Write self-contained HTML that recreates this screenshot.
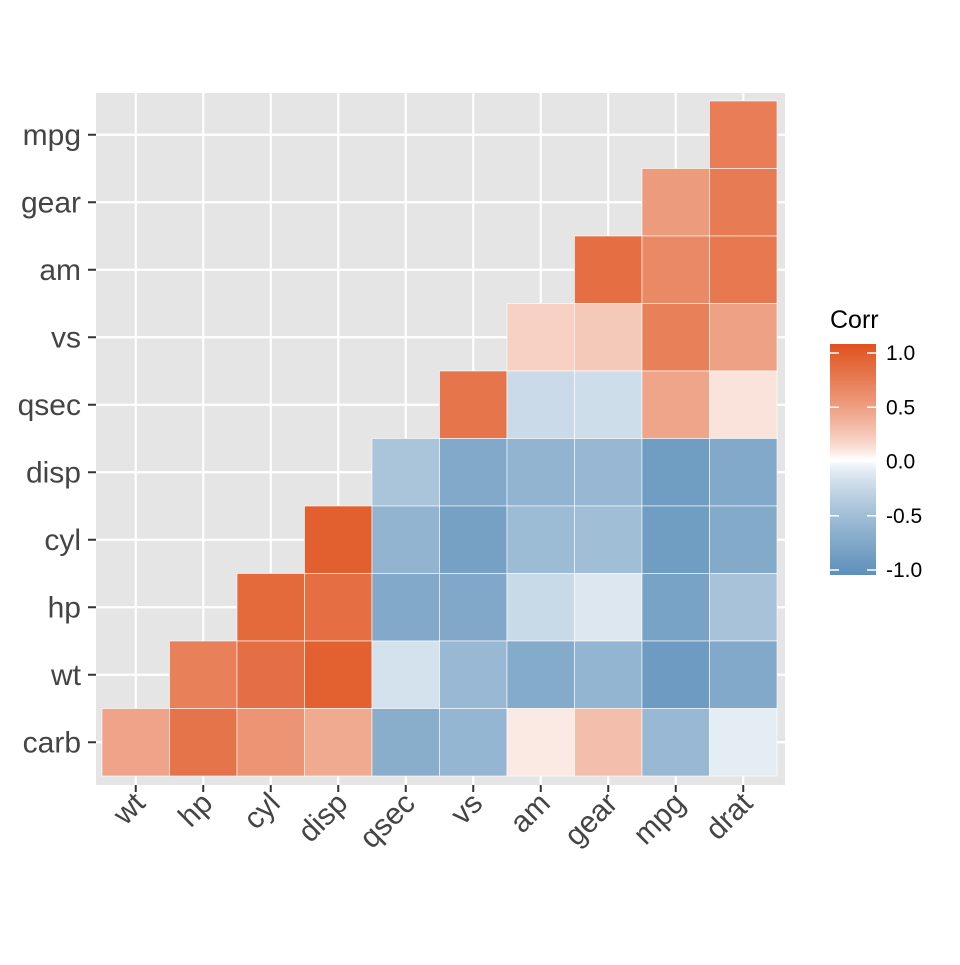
<!DOCTYPE html>
<html><head><meta charset="utf-8"><style>body{margin:0;background:#fff}</style></head>
<body>
<svg id="s" width="960" height="960" xmlns="http://www.w3.org/2000/svg" font-family="Liberation Sans, Arial, sans-serif">
<defs><linearGradient id="g" x1="0" y1="0" x2="0" y2="1">
</linearGradient></defs>
<rect x="96" y="93" width="689" height="692" fill="#e5e5e5"/>
<g id="grid"></g><g id="tiles"></g><g id="lab"></g>
<text x="830" y="328" font-size="25" fill="#000">Corr</text>
<rect x="830" y="344" width="46" height="231" fill="url(#g)"/>
<g id="leg"></g>
</svg>
<script>
const ns="http://www.w3.org/2000/svg";
function el(p,t,a,txt){const e=document.createElementNS(ns,t);for(const k in a)e.setAttribute(k,a[k]);if(txt!==undefined)e.textContent=txt;(typeof p==="string"?document.getElementById(p):p).appendChild(e);return e;}
const cols=["wt","hp","cyl","disp","qsec","vs","am","gear","mpg","drat"];
const rows=["mpg","gear","am","vs","qsec","disp","cyl","hp","wt","carb"];
const R={mpg:[.68],gear:[.48,.70],am:[.79,.60,.71],vs:[.17,.21,.66,.44],qsec:[.74,-.23,-.21,.42,.09],
disp:[-.43,-.71,-.59,-.56,-.85,-.71],cyl:[.90,-.59,-.81,-.52,-.49,-.85,-.70],
hp:[.83,.79,-.71,-.72,-.24,-.13,-.78,-.45],wt:[.66,.78,.89,-.17,-.55,-.69,-.58,-.87,-.71],
carb:[.43,.75,.53,.39,-.66,-.57,.06,.27,-.55,-.09]};
const x0=102,y0=101,w=67.5;
function col(v){const hi=[224,82,30],lo=[94,144,186];const c=v>=0?hi:lo,t=Math.pow(Math.abs(v),0.75);
return "rgb("+c.map(q=>Math.round(255+(q-255)*t)).join(",")+")";}
const g=document.getElementById("g");
for(let k=0;k<=20;k++){const v=1-k/10;el(g,"stop",{offset:k/20,"stop-color":col(v)});}
for(let i=0;i<10;i++){const cx=x0+w*i+w/2,cy=y0+w*i+w/2;
el("grid","line",{x1:cx,x2:cx,y1:93,y2:785,stroke:"#fff","stroke-width":2.2});
el("grid","line",{x1:96,x2:785,y1:cy,y2:cy,stroke:"#fff","stroke-width":2.2});
el("grid","line",{x1:cx,x2:cx,y1:785,y2:792,stroke:"#333","stroke-width":2});
el("grid","line",{x1:88,x2:96,y1:cy,y2:cy,stroke:"#333","stroke-width":2});
el("lab","text",{x:81,y:cy+10,"font-size":30,fill:"#444","text-anchor":"end"},rows[i]);
el("lab","text",{x:0,y:0,"font-size":30,fill:"#444","text-anchor":"end",transform:`translate(${cx+11},${805}) rotate(-45)`},cols[i]);}
rows.forEach((r,i)=>{const v=R[r];const start=10-v.length;v.forEach((c,j)=>{
el("tiles","rect",{x:x0+w*(start+j),y:y0+w*i,width:w,height:w,fill:col(c),stroke:"#fff","stroke-width":0.6});});});
[[1,"1.0"],[.5,"0.5"],[0,"0.0"],[-.5,"-0.5"],[-1,"-1.0"]].forEach(([v,t])=>{const y=461.5-v*108.5;
el("leg","line",{x1:830,x2:839,y1:y,y2:y,stroke:"#fff","stroke-width":1.5});
el("leg","line",{x1:867,x2:876,y1:y,y2:y,stroke:"#fff","stroke-width":1.5});
el("leg","text",{x:886,y:y+7,"font-size":21,fill:"#000"},t);});
</script>
</body></html>
